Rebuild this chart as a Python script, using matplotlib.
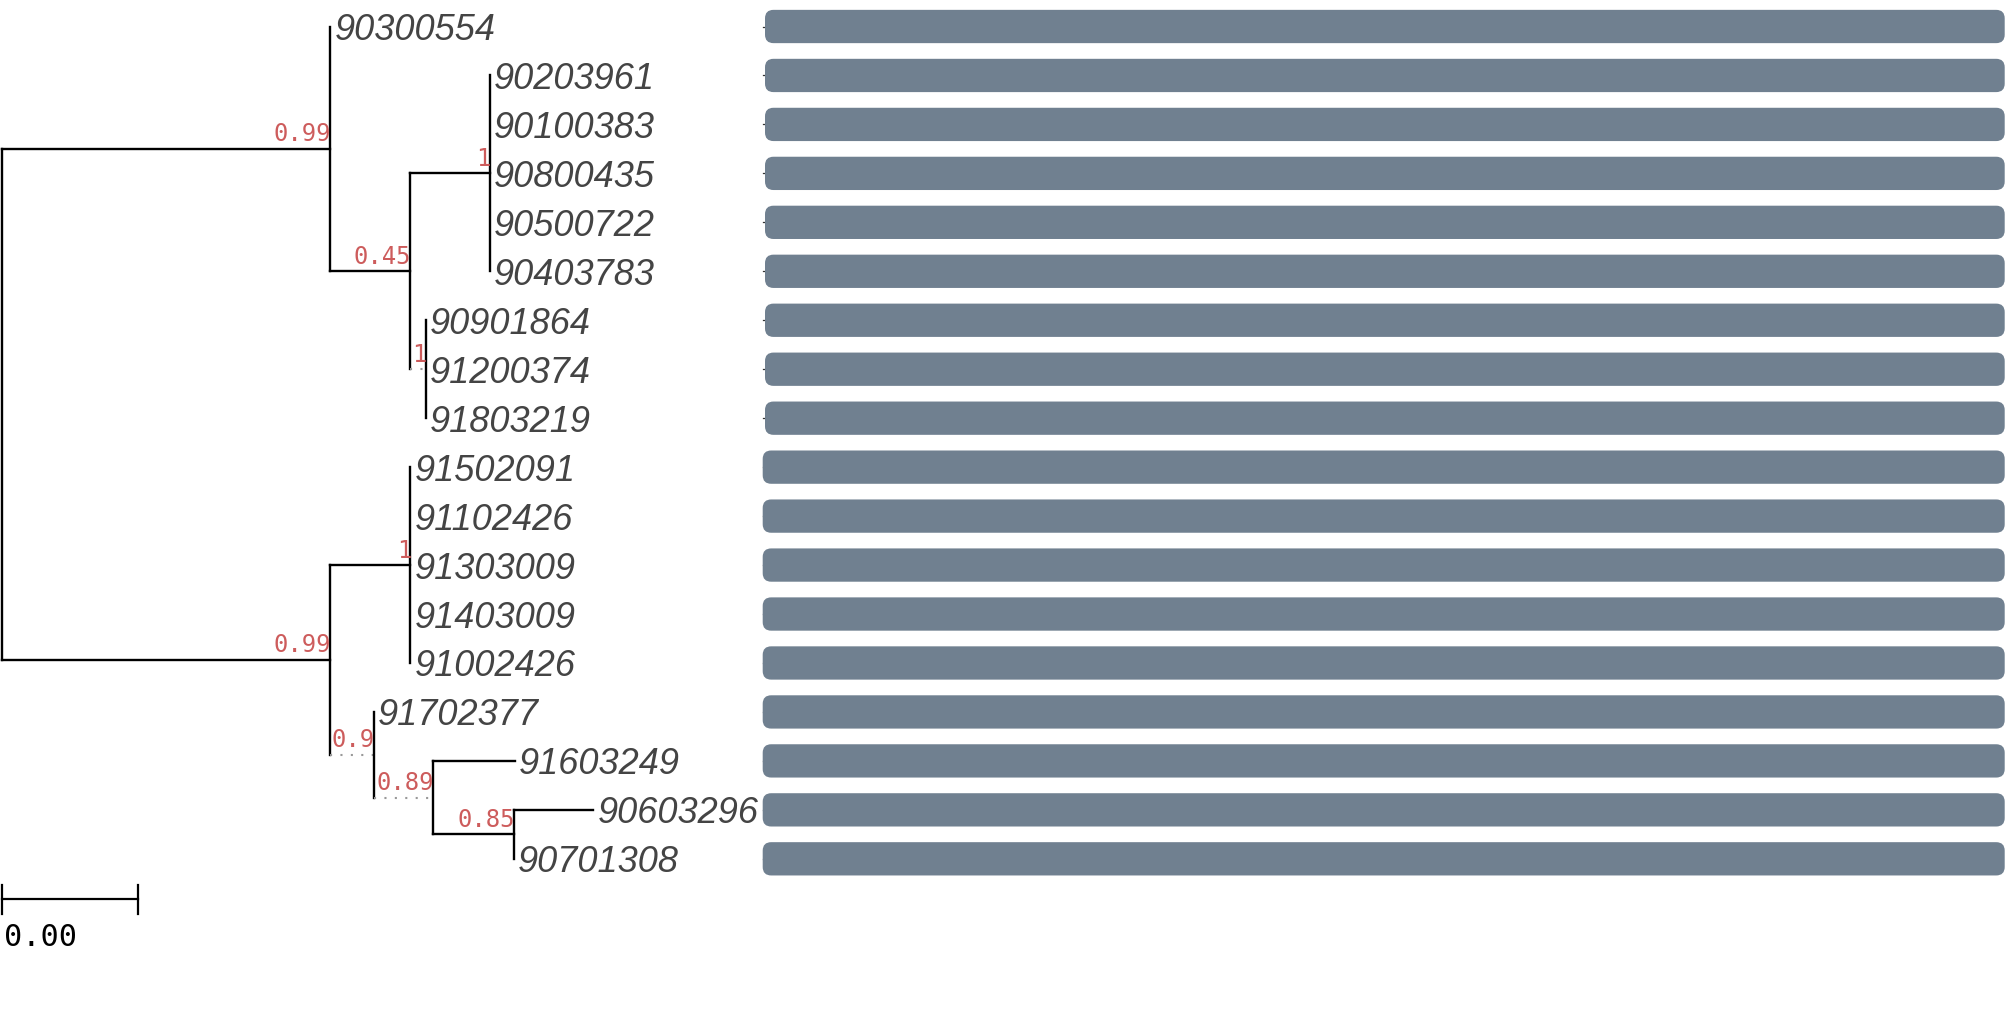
import matplotlib
matplotlib.use("Agg")
import matplotlib.pyplot as plt
from matplotlib.patches import FancyBboxPatch

# ---------------- data ----------------
leaf_order = ["90300554", "90203961", "90100383", "90800435", "90500722",
              "90403783", "90901864", "91200374", "91803219", "91502091",
              "91102426", "91303009", "91403009", "91002426", "91702377",
              "91603249", "90603296", "90701308"]

node_name = ["root", "A", "90300554", "B", "C", "90203961", "90100383",
             "90800435", "90500722", "90403783", "D", "90901864", "91200374",
             "91803219", "E", "F", "91502091", "91102426", "91303009",
             "91403009", "91002426", "G", "91702377", "H", "91603249", "I",
             "90603296", "90701308"]
node_parent = [None, "root", "A", "A", "B", "C", "C", "C", "C", "C", "B",
               "D", "D", "D", "root", "E", "F", "F", "F", "F", "F", "E", "G",
               "G", "H", "H", "I", "I"]
branch_length = [0.0, 0.00484, 0.0, 0.00118, 0.00117, 0.0, 0.0, 0.0, 0.0,
                 0.0, 0.000226, 0.0, 0.0, 0.0, 0.00484, 0.00118, 0.0, 0.0,
                 0.0, 0.0, 0.0, 0.000642, 0.0, 0.000875, 0.00120, 0.00119,
                 0.00117, 0.0]
support = [None, 0.99, None, 0.45, 1, None, None, None, None, None, 1,
           None, None, None, 0.99, 1, None, None, None, None, None, 0.9,
           None, 0.89, None, 0.85, None, None]

seq_start = [0] * 18
seq_end = [530] * 18
domain_start = [1] * 9 + [0] * 9
domain_end = [540] * 18

scale_length = 0.002

# ---------------- layout ----------------
W, H, DPI = 2007, 1021, 100
fig = plt.figure(figsize=(W / DPI, H / DPI), dpi=DPI)

row0_px, row_px = 26.5, 48.96          # pixel y of first row, row spacing
tree_x0_px, tree_px_per_unit = 2.3, 67800.0
bar_x0_px, bar_px_per_unit = 762.7, 2.3

ylim = ((H - row0_px) / row_px, -row0_px / row_px)

ax = fig.add_axes([0, 0, 1, 1])
ax.set_xlim(-tree_x0_px / tree_px_per_unit, (W - tree_x0_px) / tree_px_per_unit)
ax.set_ylim(*ylim)
ax.axis("off")

axb = fig.add_axes([0, 0, 1, 1], facecolor="none")
axb.set_xlim(-bar_x0_px / bar_px_per_unit, (W - bar_x0_px) / bar_px_per_unit)
axb.set_ylim(*ylim)
axb.axis("off")

# ---------------- tree geometry ----------------
children = {n: [] for n in node_name}
for n, p in zip(node_name, node_parent):
    if p is not None:
        children[p].append(n)
blen = dict(zip(node_name, branch_length))
sup = dict(zip(node_name, support))
parent = dict(zip(node_name, node_parent))

xpos, ypos = {}, {}


def place_x(n, x):
    xpos[n] = x
    for c in children[n]:
        place_x(c, x + blen[c])


def place_y(n):
    if not children[n]:
        ypos[n] = leaf_order.index(n)
    else:
        for c in children[n]:
            place_y(c)
        ypos[n] = (ypos[children[n][0]] + ypos[children[n][-1]]) / 2.0


place_x("root", 0.0)
place_y("root")

dotted = {"D", "G", "H"}
lw = 1.7
for n in node_name:
    p = parent[n]
    if p is not None:
        if n in dotted:
            ax.plot([xpos[p], xpos[n]], [ypos[n], ypos[n]], color="#999999",
                    lw=1.5, linestyle=(0, (1, 4)), solid_capstyle="butt")
        elif blen[n] > 0:
            ax.plot([xpos[p], xpos[n]], [ypos[n], ypos[n]], color="black",
                    lw=lw, solid_capstyle="projecting")
    if children[n]:
        ys = [ypos[c] for c in children[n]]
        ax.plot([xpos[n], xpos[n]], [min(ys), max(ys)], color="black",
                lw=lw, solid_capstyle="projecting")
        if sup[n] is not None:
            ax.annotate(f"{sup[n]:g}", (xpos[n], ypos[n]), xytext=(0.6, 5.4),
                        textcoords="offset points", ha="right", va="baseline",
                        fontsize=17.2, color="#cd5c5c",
                        family="DejaVu Sans Mono")
    else:
        ax.annotate(n, (xpos[n], ypos[n]), xytext=(3.0, 0),
                    textcoords="offset points", ha="left",
                    va="center_baseline", fontsize=26, color="#444444",
                    style="italic", family="Liberation Sans")

# ---------------- scale bar ----------------
sb_y = len(leaf_order) - 1 + 0.83
ax.plot([0, scale_length], [sb_y, sb_y], color="black", lw=1.6)
for xx in (0, scale_length):
    ax.plot([xx, xx], [sb_y - 0.29, sb_y + 0.29], color="black", lw=1.6)
ax.text(0.00002, sb_y + 0.96, f"{scale_length:.2f}", ha="left",
        va="baseline", fontsize=21.8, color="black",
        family="DejaVu Sans Mono")

# ---------------- bars ----------------
bar_h = 0.68
r_x = 8.5 / bar_px_per_unit
aspect = (1.0 / row_px) / (1.0 / bar_px_per_unit)
for i in range(len(leaf_order)):
    axb.plot([seq_start[i], seq_end[i]], [i, i], color="#333333", lw=0.9,
             zorder=1)
    box = FancyBboxPatch((domain_start[i], i - bar_h / 2),
                         domain_end[i] - domain_start[i], bar_h,
                         boxstyle=f"round,pad=0,rounding_size={r_x}",
                         mutation_aspect=aspect, facecolor="#708090",
                         edgecolor="none", zorder=2)
    axb.add_patch(box)

fig.savefig("out.png", dpi=DPI)
